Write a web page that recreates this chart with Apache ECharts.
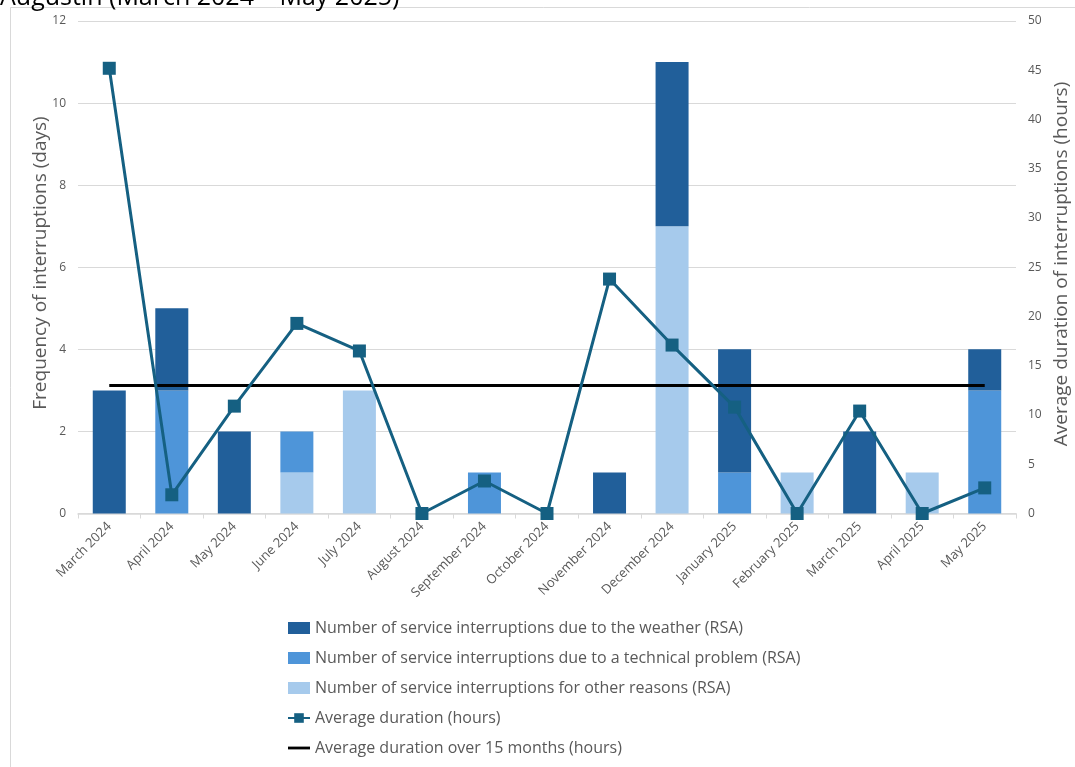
<!DOCTYPE html>
<html>
<head>
<meta charset="utf-8">
<script src="https://cdn.jsdelivr.net/npm/echarts@6/dist/echarts.min.js"></script>
<style>
  html, body { margin: 0; padding: 0; background: #fff; }
  #chart { width: 1075px; height: 767px; }
</style>
</head>
<body>
<div id="chart"></div>
<script>
// Monthly service interruptions and their average duration
const months = ['March 2024', 'April 2024', 'May 2024', 'June 2024', 'July 2024', 'August 2024',
  'September 2024', 'October 2024', 'November 2024', 'December 2024', 'January 2025',
  'February 2025', 'March 2025', 'April 2025', 'May 2025'];
const weather   = [3, 2, 2, 0, 0, 0, 0, 0, 1, 4, 3, 0, 2, 0, 1];
const technical = [0, 3, 0, 1, 0, 0, 1, 0, 0, 0, 1, 0, 0, 0, 3];
const other     = [0, 0, 0, 1, 3, 0, 0, 0, 0, 7, 0, 1, 0, 1, 0];
const avgDuration = [45.2, 1.9, 10.9, 19.3, 16.5, 0, 3.3, 0, 23.8, 17.1, 10.8, 0, 10.4, 0, 2.6];
const avgOverall = 13.0;
const overallLine = months.map(() => avgOverall);
const leftTicks = { min: 0, max: 12, interval: 2 };
const rightTicks = { min: 0, max: 50, interval: 5 };

const names = {
  weather: 'Number of service interruptions due to the weather (RSA)',
  technical: 'Number of service interruptions due to a technical problem (RSA)',
  other: 'Number of service interruptions for other reasons (RSA)',
  avg: 'Average duration (hours)',
  overall: 'Average duration over 15 months (hours)'
};
const leftTitle = 'Frequency of interruptions (days)';
const rightTitle = 'Average duration of interruptions (hours)';
const chartTitle = 'Augustin (March 2024 – May 2025)';

const FONT = '"Open Sans", Lato, sans-serif';
const GREY = '#595959';
// plain stroke marker (full item width) for the legend entry of the 15-month average
const PLAIN_LINE_ICON = 'path://M0,0 M22,12 M0,4.6 L22,4.6 L22,7.4 L0,7.4 Z';

const chart = echarts.init(document.getElementById('chart'), null, { renderer: 'canvas' });

const barSeries = (name, data, color) => ({
  name, type: 'bar', stack: 'count', data, barWidth: 33,
  itemStyle: { color }, emphasis: { disabled: true }
});

chart.setOption({
  animation: false,
  backgroundColor: '#ffffff',
  textStyle: { fontFamily: FONT },
  graphic: [
    {
      type: 'rect', left: 8, top: 5, z: -10,
      shape: { width: 1100, height: 800 },
      style: { fill: 'none', stroke: '#d9d9d9', lineWidth: 1 }
    },
    {
      type: 'text', x: 0, y: 10,
      style: { text: chartTitle, font: '25px ' + FONT, fill: '#000', verticalAlign: 'bottom' }
    },
    {
      type: 'text', x: 41, y: 263, rotation: Math.PI / 2,
      style: { text: leftTitle, font: '19px ' + FONT, fill: GREY, align: 'center', verticalAlign: 'middle' }
    },
    {
      type: 'text', x: 1062, y: 264, rotation: Math.PI / 2,
      style: { text: rightTitle, font: '19px ' + FONT, fill: GREY, align: 'center', verticalAlign: 'middle' }
    }
  ],
  grid: { left: 78, right: 59, top: 21, bottom: 253.5, containLabel: false },
  legend: {
    orient: 'vertical', left: 282, top: 613,
    itemWidth: 22, itemHeight: 12, itemGap: 10,
    textStyle: { fontSize: 16, color: GREY, fontFamily: FONT, lineHeight: 20 },
    data: [
      { name: names.weather, icon: 'rect' },
      { name: names.technical, icon: 'rect' },
      { name: names.other, icon: 'rect' },
      { name: names.avg },
      { name: names.overall, icon: PLAIN_LINE_ICON }
    ]
  },
  xAxis: {
    type: 'category', data: months, boundaryGap: true,
    axisLine: { lineStyle: { color: '#d9d9d9', width: 1.5 } },
    axisTick: { show: true, alignWithLabel: false, length: 5, lineStyle: { color: '#d9d9d9' } },
    axisLabel: { rotate: 45, color: GREY, fontSize: 13, fontFamily: FONT, interval: 0, margin: 11 }
  },
  yAxis: [
    {
      type: 'value', ...leftTicks,
      axisLine: { show: false }, axisTick: { show: false },
      axisLabel: { color: GREY, fontSize: 12, margin: 12 },
      splitLine: { lineStyle: { color: '#d9d9d9', width: 1 } }
    },
    {
      type: 'value', ...rightTicks, position: 'right',
      axisLine: { show: false }, axisTick: { show: false },
      axisLabel: { color: GREY, fontSize: 12, margin: 12 },
      splitLine: { show: false }
    }
  ],
  series: [
    barSeries(names.other, other, '#a6caec'),
    barSeries(names.technical, technical, '#4e95d9'),
    barSeries(names.weather, weather, '#215f9a'),
    {
      name: names.avg, type: 'line', yAxisIndex: 1, data: avgDuration,
      symbol: 'rect', symbolSize: 13, showAllSymbol: true,
      lineStyle: { color: '#156082', width: 3 },
      itemStyle: { color: '#156082' }, emphasis: { disabled: true }, z: 5
    },
    {
      name: names.overall, type: 'line', yAxisIndex: 1, data: overallLine,
      symbol: 'none', lineStyle: { color: '#000', width: 3 },
      itemStyle: { color: '#000' }, emphasis: { disabled: true }, z: 4
    }
  ]
});
</script>
</body>
</html>
